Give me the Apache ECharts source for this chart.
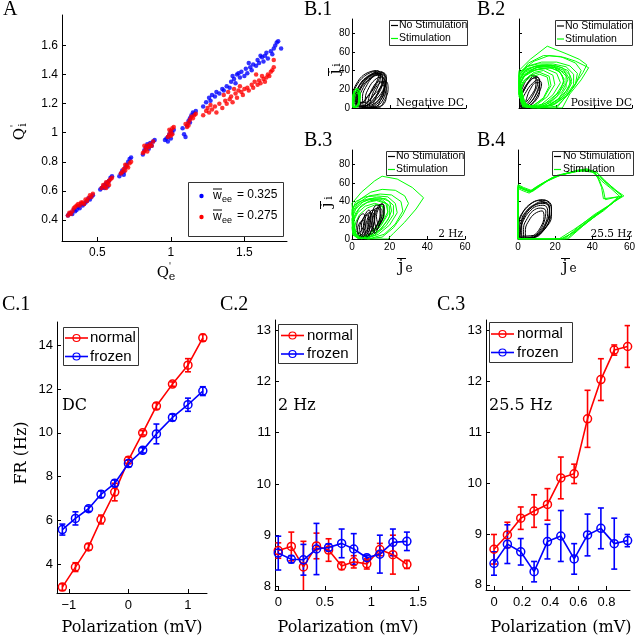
<!DOCTYPE html>
<html><head><meta charset="utf-8">
<script src="https://cdn.jsdelivr.net/npm/echarts@6/dist/echarts.min.js"></script>
<style>html,body{margin:0;padding:0;background:#fff}#c{width:638px;height:639px}</style>
</head><body><div id="c"></div>
<script>
// ---------------- Panel A data ----------------
const aXTicks = [0.5, 1, 1.5];
const aYTicks = [0.4, 0.6, 0.8, 1, 1.2, 1.4, 1.6];
const aLegendValues = ['0.325', '0.275'];
const aBlue = [
[0.30,0.43],[0.31,0.44],[0.32,0.45],[0.33,0.44],[0.34,0.47],[0.35,0.46],[0.37,0.49],[0.38,0.48],[0.40,0.50],[0.41,0.51],[0.42,0.52],[0.43,0.53],[0.44,0.55],[0.45,0.54],[0.46,0.56],[0.47,0.57],[0.39,0.51],[0.36,0.47],
[0.52,0.61],[0.53,0.62],[0.54,0.63],[0.55,0.62],[0.56,0.65],[0.57,0.66],[0.58,0.67],[0.59,0.69],[0.60,0.70],[0.55,0.64],[0.57,0.63],
[0.65,0.70],[0.66,0.72],[0.67,0.74],[0.68,0.73],[0.69,0.76],[0.70,0.78],[0.71,0.80],[0.72,0.82],[0.73,0.83],[0.68,0.71],
[0.81,0.85],[0.82,0.88],[0.83,0.90],[0.84,0.92],[0.85,0.89],[0.86,0.93],[0.87,0.91],[0.88,0.94],[0.89,0.95],[0.85,0.91],
[0.96,0.95],[0.97,0.96],[0.98,0.97],[0.99,0.99],[1.00,1.01],[1.01,1.00],[1.02,1.02],[0.98,0.94],[1.00,0.96],
[1.08,1.03],[1.09,0.99],[1.10,0.97],[1.11,1.05],[1.12,1.08],[1.13,1.10],[1.14,1.12],[1.15,1.14],[1.16,1.13],[1.17,1.15],[1.13,1.07],
[1.22,1.18],[1.24,1.21],[1.26,1.24],[1.27,1.22],[1.28,1.26],[1.30,1.25],[1.31,1.28],[1.33,1.27],[1.35,1.30],[1.36,1.29],[1.38,1.32],[1.40,1.31],[1.41,1.35],[1.43,1.37],[1.44,1.34],[1.45,1.40],[1.47,1.38],[1.48,1.42],[1.50,1.39],[1.51,1.44],[1.52,1.41],[1.54,1.45],[1.55,1.43],[1.56,1.47],[1.58,1.46],[1.59,1.50],[1.60,1.48],[1.62,1.52],[1.63,1.49],[1.64,1.53],[1.65,1.55],[1.66,1.51],[1.68,1.56],[1.69,1.54],[1.70,1.58],[1.71,1.60],[1.72,1.62],[1.73,1.63],[1.75,1.58],[1.42,1.39],[1.46,1.41],[1.53,1.48],[1.61,1.53]
];
const aRed = [
[0.30,0.43],[0.31,0.45],[0.32,0.44],[0.33,0.46],[0.34,0.48],[0.35,0.49],[0.36,0.50],[0.37,0.51],[0.38,0.50],[0.40,0.52],[0.41,0.51],[0.42,0.54],[0.43,0.53],[0.44,0.55],[0.45,0.57],[0.46,0.56],[0.47,0.58],[0.39,0.52],
[0.53,0.62],[0.54,0.64],[0.55,0.63],[0.56,0.66],[0.57,0.65],[0.58,0.67],[0.59,0.68],[0.60,0.69],[0.56,0.62],[0.58,0.64],
[0.66,0.72],[0.67,0.73],[0.68,0.75],[0.69,0.74],[0.70,0.77],[0.71,0.76],[0.72,0.79],[0.73,0.80],[0.69,0.78],
[0.81,0.86],[0.82,0.87],[0.83,0.89],[0.84,0.91],[0.85,0.90],[0.86,0.92],[0.87,0.91],[0.88,0.94],[0.82,0.91],[0.84,0.87],
[0.98,0.97],[0.99,0.99],[1.00,1.01],[1.01,1.03],[1.02,1.04],[0.99,1.02],[1.00,0.98],[1.01,0.99],
[1.10,1.06],[1.11,1.04],[1.12,1.07],[1.13,1.09],[1.14,1.11],[1.15,1.10],[1.16,1.12],[1.17,1.13],[1.12,1.05],
[1.22,1.12],[1.24,1.15],[1.25,1.17],[1.26,1.14],[1.27,1.19],[1.28,1.16],[1.30,1.18],[1.31,1.14],[1.33,1.20],[1.35,1.17],[1.37,1.22],[1.38,1.20],[1.40,1.23],[1.41,1.25],[1.42,1.21],[1.44,1.27],[1.45,1.24],[1.46,1.29],[1.48,1.28],[1.49,1.26],[1.50,1.30],[1.52,1.31],[1.53,1.29],[1.55,1.33],[1.56,1.31],[1.57,1.35],[1.59,1.33],[1.60,1.36],[1.61,1.34],[1.63,1.37],[1.64,1.35],[1.65,1.38],[1.66,1.40],[1.67,1.39],[1.68,1.42],[1.69,1.43],[1.70,1.50],[1.70,1.45],[1.36,1.26],[1.39,1.28],[1.43,1.30],[1.47,1.32],[1.58,1.40],[1.62,1.39]
];

// ---------------- Panel B data (trajectory loops, [je, ji]) ----------------
const bXTicks = [0, 20, 40, 60];
const bYTicks = [0, 20, 40, 60, 80];
const bLegendLabels = ['No Stimulation', 'Stimulation'];
const bNotes = ['Negative DC', 'Positive DC', '2 Hz', '25.5 Hz'];
const b1Black = [
[[2,2],[1.5,10],[3,20],[6,29],[10,35],[14,37],[16,33],[15,22],[11,9],[6,2],[2,2]],
[[3,1],[2.5,12],[5,24],[8,32],[12,38],[15,39],[17,35],[16,24],[12,10],[7,2],[3,1]],
[[4,0.5],[3,8],[4,18],[7,27],[11,34],[15,36],[18,32],[17,20],[14,8],[9,1],[4,0.5]],
[[5,1],[4,10],[6,22],[9,30],[13,36],[16,37],[18,30],[16,16],[12,5],[5,1]],
[[6,0.5],[5.5,12],[8,25],[11,33],[14,35],[17,30],[17,18],[14,6],[9,0.5],[6,0.5]],
[[2.5,3],[2,14],[4,25],[7,32],[11,37],[13,38],[15,34],[13,20],[9,8],[5,2],[2.5,3]],
[[7,0.5],[7,10],[9,22],[12,30],[15,33],[18,26],[17,12],[13,2],[7,0.5]],
[[8,0.5],[9,12],[11,22],[14,28],[16,28],[17,20],[15,8],[12,0.5],[8,0.5]],
[[1,5],[1,16],[3,26],[6,33],[9,37],[12,39],[14,36],[12,24],[8,12],[4,4],[1,5]],
[[1,8],[1,18],[3,28],[6,35],[10,39],[13,40],[15,37],[13,26],[9,14],[5,6],[1,8]],
[[9,0.5],[10,10],[12,20],[15,27],[18,28],[19,20],[17,8],[14,0.5],[9,0.5]],
[[3.5,2],[3,13],[5,23],[8,31],[12,36],[16,38],[18,34],[17,22],[13,10],[8,3],[3.5,2]],
[[10,0.5],[12,8],[14,18],[16,24],[18,22],[18,12],[16,3],[10,0.5]],
[[2,6],[2.5,17],[5,27],[9,34],[13,37],[16,35],[16,27],[12,15],[7,6],[2,6]]
];
const b1Green = [
[[0.5,0.5],[0.3,8],[0.8,15],[2,20],[3.5,19],[4.2,12],[3.5,5],[2,1],[0.5,0.5]],
[[1,0.5],[0.6,6],[1,13],[2,18],[3.2,17],[3.8,10],[3,3],[1,0.5]],
[[0.3,1],[0.2,10],[1,17],[2.5,21],[3.8,18],[4,9],[2.8,2],[0.3,1]],
[[1.5,0.5],[1.2,7],[1.8,14],[2.8,16],[3.5,12],[3.2,5],[1.5,0.5]],
[[0.2,2],[0.5,12],[1.5,19],[3,20],[4.4,15],[4,6],[2.5,0.5],[0.2,2]],
[[0.8,1],[0.7,9],[1.4,16],[2.4,19],[3.4,15],[3.6,8],[2.2,1.5],[0.8,1]]
];
const b2Black = [
[[0.5,1],[0.5,8],[2,18],[5,28],[8,34],[10,33],[11,26],[9,14],[5,4],[0.5,1]],
[[1,0.5],[1,10],[3,20],[6,29],[9,33],[11,30],[10,20],[7,8],[3,1],[1,0.5]],
[[2,0.5],[2,8],[4,18],[7,26],[10,30],[12,26],[10,14],[6,3],[2,0.5]],
[[0.3,2],[0.5,14],[2,22],[4,30],[7,35],[9,34],[9,25],[6,12],[2,3],[0.3,2]],
[[3,0.5],[4,10],[6,20],[9,27],[11,27],[11,18],[8,6],[3,0.5]],
[[1.5,1],[1.5,12],[3.5,22],[6,30],[8.5,32],[10,28],[8,16],[4.5,5],[1.5,1]]
];
const b2Green = [
[[0,40],[6,52],[15,66],[25,58],[32,52],[36,46],[34,38],[28,20],[22,5],[20,0],[10,0],[2,5],[0,20],[0,40]],
[[0,35],[5,48],[13,56],[22,55],[30,48],[33,40],[30,25],[25,12],[20,2],[12,0],[3,3],[0,15],[0,35]],
[[0,38],[8,50],[16,56],[24,54],[30,50],[37,43],[33,30],[27,15],[23,0],[14,0],[5,2],[0,14],[0,38]],
[[0,30],[4,42],[12,46],[20,45],[26,40],[28,30],[25,18],[20,8],[14,1],[6,0],[1,8],[0,30]],
[[0,28],[3,38],[10,44],[18,45],[24,40],[26,30],[23,18],[17,6],[10,0],[3,2],[0,12],[0,28]],
[[0.5,25],[3,36],[9,43],[16,44],[22,38],[24,28],[20,15],[14,5],[7,0],[2,3],[0.5,25]],
[[0,22],[2,33],[7,40],[14,42],[20,37],[22,27],[18,14],[12,4],[5,0.5],[1,6],[0,22]],
[[1,20],[3,30],[8,38],[13,40],[18,35],[19,25],[15,12],[9,3],[3,1],[1,20]],
[[0,18],[2,28],[6,35],[11,38],[16,34],[17,24],[13,10],[7,2],[2,2],[0,18]],
[[0,32],[3,40],[9,45],[17,46],[23,43],[27,35],[27,24],[23,12],[16,3],[8,0],[2,4],[0,32]],
[[0,26],[4,37],[11,42],[19,43],[25,37],[28,27],[25,15],[19,5],[11,0],[4,1],[0,26]],
[[0.5,24],[2,32],[6,40],[12,45],[19,43],[23,35],[24,25],[20,12],[14,3],[7,0],[2,6],[0.5,24]],
[[0,34],[4,44],[10,47],[18,47],[25,44],[29,36],[29,25],[25,13],[18,3],[10,0],[3,2],[0,34]],
[[0,29],[3,39],[8,44],[15,46],[21,42],[25,34],[25,22],[21,10],[15,2],[8,0],[2,4],[0,29]],
[[0,24],[3,34],[9,41],[16,43],[21,40],[24,31],[22,19],[17,8],[10,1],[3,1],[0,24]],
[[0,36],[5,45],[12,49],[20,49],[27,45],[31,37],[30,26],[26,14],[19,4],[11,0],[3,3],[0,36]],
[[0,16],[2,26],[6,33],[11,36],[15,33],[16,23],[13,11],[8,3],[2,1],[0,16]]
];
const b3Green = [
[[0,38],[5,50],[12,62],[16,67],[24,64],[32,55],[38,44],[34,32],[28,18],[22,6],[19,0],[8,0],[1,10],[0,38]],
[[0,32],[4,42],[10,50],[16,53],[23,52],[28,46],[30,38],[27,26],[22,12],[16,2],[8,0],[2,5],[0,32]],
[[0,28],[3,38],[9,46],[15,48],[21,47],[26,40],[27,30],[23,16],[17,5],[9,0],[2,4],[0,28]],
[[0,22],[2,32],[6,40],[12,44],[18,43],[22,36],[22,26],[18,14],[12,4],[5,0],[1,6],[0,22]],
[[0,18],[2,28],[5,36],[10,41],[16,42],[20,35],[20,24],[16,12],[10,3],[4,0.5],[0.5,6],[0,18]],
[[0.5,14],[1.5,24],[4,33],[8,39],[13,41],[18,38],[19,29],[16,17],[11,6],[5,1],[1,4],[0.5,14]],
[[0,26],[1,35],[4,40],[9,43],[15,44],[20,40],[21,30],[19,20],[14,8],[8,1],[2,2],[0,26]],
[[0,12],[1,20],[3,28],[7,35],[12,38],[16,36],[17,28],[14,16],[9,5],[4,0.5],[0.5,4],[0,12]],
[[1,8],[2,18],[4,26],[8,33],[13,37],[17,34],[17,24],[13,12],[8,3],[3,1],[1,8]],
[[0,30],[2,40],[7,45],[13,46],[19,45],[23,38],[24,28],[20,15],[14,5],[7,0],[1,5],[0,30]],
[[0,20],[1,30],[4,38],[9,42],[14,42],[19,37],[19,26],[15,13],[9,3],[3,0.5],[0,20]]
];
const b3Black = [
[[4,3],[3,10],[4,17],[6,20],[7,15],[6,7],[4,3]],
[[7,3],[6,12],[7,22],[9,28],[11,25],[10,14],[8,5],[7,3]],
[[10,5],[9,15],[10,25],[12,32],[14,33],[15,26],[13,14],[11,6],[10,5]],
[[13,10],[12,20],[13,30],[15,37],[17,36],[17,27],[15,16],[13,10]],
[[5,2],[4,12],[6,22],[8,26],[9,20],[8,10],[5,2]],
[[9,3],[8,13],[9,22],[11,28],[12,24],[11,13],[9,3]],
[[3,5],[2.5,14],[4,24],[6,27],[7,20],[5,9],[3,5]],
[[6,2],[5,14],[7,26],[9,31],[10,24],[9,12],[6,2]],
[[11,8],[10,20],[11,30],[13,36],[15,35],[15,24],[12,10],[11,8]],
[[14,14],[13,24],[14,32],[16,38],[17,32],[16,20],[14,14]],
[[8,2],[7,10],[8,20],[10,30],[12,31],[12,20],[10,8],[8,2]],
[[12,6],[11,18],[12,28],[14,34],[16,30],[15,18],[13,8],[12,6]]
];
const b4Black = [
[[0.5,1],[0.5,15],[2,26],[5,34],[9,40],[13,42],[16,40],[18,32],[17,20],[13,8],[7,1],[0.5,1]],
[[1,0.5],[1,12],[3,24],[6,32],[10,37],[14,38],[17,33],[16,20],[12,7],[6,0.5],[1,0.5]],
[[2,0.5],[1.5,10],[3,20],[6,29],[10,35],[14,36],[16,30],[15,18],[11,6],[6,0.5],[2,0.5]],
[[0.5,3],[0.5,18],[3,30],[7,38],[11,41],[15,41],[18,35],[18,24],[15,12],[10,3],[4,0.5],[0.5,3]],
[[3,0.5],[3,12],[5,22],[8,30],[12,33],[15,30],[14,18],[11,7],[7,1],[3,0.5]],
[[4,1],[4,10],[6,20],[9,27],[13,30],[14,24],[12,12],[8,3],[4,1]],
[[1,2],[2,16],[4,26],[7,33],[11,38],[15,39],[17,34],[17,22],[14,10],[9,2],[1,2]],
[[2,3],[2,20],[5,31],[9,37],[13,40],[16,37],[17,28],[15,16],[11,5],[2,3]]
];
const b4Green = [
[[0,0],[10,0],[22,0],[30,10],[38,21],[48,34],[56,46],[51,55],[46,63],[42,72],[36,74],[26,70],[19,66],[12,58],[7,50],[3,53],[0,56],[0,30],[0,0]],
[[0,0],[12,0],[24,0],[31,9],[40,23],[50,37],[55,45],[50,54],[45,62],[41,71],[34,73],[27,70],[20,67],[13,59],[7,51],[3,54],[0,57],[0,0]],
[[0,0],[14,0],[26,0],[33,11],[42,25],[51,39],[56,46],[47,42],[46,52],[44,62],[41,72],[33,74],[24,69],[16,62],[8,51],[4,52],[0,55],[0,0]],
[[0,0],[13,0],[25,0],[32,12],[41,26],[49,36],[54,45],[46,43],[45,55],[43,65],[40,73],[31,72],[22,68],[14,60],[6,49],[2,52],[0,54],[0,0]],
[[0,0],[15,0],[27,0],[35,14],[44,28],[52,40],[57,46],[52,53],[47,62],[43,70],[37,75],[28,71],[18,65],[10,56],[6,50],[2,55],[0,55],[0,0]],
[[0,0],[11,0],[23,0],[30,7],[37,18],[46,30],[53,42],[56,46],[49,57],[44,66],[38,74],[30,72],[21,68],[13,59],[7,52],[3,55],[0,58],[0,0]]
];

// ---------------- Panel C data ----------------
const cLegendLabels = ['normal', 'frozen'];
const cNotes = ['DC', '2 Hz', '25.5 Hz'];
const c1XTicks = [-1, 0, 1];
const c1YTicks = [4, 6, 8, 10, 12, 14];
const c1X = [-1.11, -0.89, -0.67, -0.46, -0.23, 0, 0.24, 0.47, 0.74, 1.0, 1.25];
const c1Normal = [2.97, 3.88, 4.80, 6.05, 7.3, 8.75, 10.0, 11.22, 12.22, 13.08, 14.33];
const c1NormalErr = [0.15, 0.2, 0.15, 0.2, 0.4, 0.15, 0.1, 0.15, 0.1, 0.3, 0.15];
const c1Frozen = [5.59, 6.1, 6.54, 7.2, 7.7, 8.6, 9.2, 9.95, 10.7, 11.28, 11.9];
const c1FrozenErr = [0.25, 0.3, 0.12, 0.15, 0.15, 0.15, 0.12, 0.45, 0.15, 0.3, 0.2];

const c2XTicks = [0, 0.5, 1, 1.5];
const c2YTicks = [8, 9, 10, 11, 12, 13];
const c2X = [0, 0.14, 0.27, 0.41, 0.54, 0.68, 0.81, 0.95, 1.09, 1.23, 1.38];
const c2Normal = [8.7, 8.78, 8.38, 8.79, 8.71, 8.4, 8.48, 8.44, 8.72, 8.62, 8.43];
const c2NormalErr = [0.15, 0.28, 0.5, 0.25, 0.22, 0.07, 0.12, 0.1, 0.12, 0.38, 0.08];
const c2Frozen = [8.65, 8.53, 8.52, 8.73, 8.76, 8.84, 8.73, 8.56, 8.63, 8.86, 8.88];
const c2FrozenErr = [0.33, 0.07, 0.3, 0.5, 0.07, 0.28, 0.3, 0.05, 0.37, 0.26, 0.18];

const c3XTicks = [0, 0.2, 0.4, 0.6, 0.8];
const c3YTicks = [8, 9, 10, 11, 12, 13];
const c3X = [0, 0.095, 0.19, 0.285, 0.38, 0.475, 0.57, 0.665, 0.76, 0.855, 0.95];
const c3Normal = [8.7, 8.98, 9.31, 9.45, 9.58, 10.1, 10.18, 11.26, 12.03, 12.61, 12.68];
const c3NormalErr = [0.29, 0.25, 0.22, 0.32, 0.31, 0.41, 0.19, 0.56, 0.41, 0.1, 0.41];
const c3Frozen = [8.42, 8.8, 8.65, 8.26, 8.85, 8.96, 8.51, 8.98, 9.11, 8.81, 8.87];
const c3FrozenErr = [0.23, 0.38, 0.26, 0.2, 0.34, 0.5, 0.3, 0.41, 0.4, 0.5, 0.12];

// ---------------- Build chart ----------------
const SANS = '"Liberation Sans", Arial, sans-serif';
const TIMES = '"Liberation Serif", "Times New Roman", serif';
const DSERIF = '"DejaVu Serif", serif';
const RED = '#ff0000', BLUE = '#0000ff', GREEN = '#00ff00', BLACK = '#000000';

const grids = [
  {left: 62, top: 15, width: 225, height: 226},   // A
  {left: 352, top: 19, width: 114, height: 89},   // B1
  {left: 519, top: 19, width: 113, height: 89},   // B2
  {left: 352, top: 150, width: 113, height: 89},  // B3
  {left: 518, top: 150, width: 114, height: 89},  // B4
  {left: 57, top: 322, width: 150, height: 271},  // C1
  {left: 275, top: 320, width: 144, height: 270}, // C2
  {left: 486, top: 320, width: 144, height: 270}  // C3
];

function axis(gi, min, max, ticks, showLabels, fontSize, margin, fmt) {
  return {
    type: 'value', gridIndex: gi, min: min, max: max, scale: true,
    axisLine: {show: true, onZero: false, lineStyle: {color: BLACK, width: 1}},
    axisTick: {show: true, inside: true, length: 4, customValues: ticks, lineStyle: {color: BLACK, width: 1}},
    axisLabel: {show: showLabels, customValues: ticks, fontSize: fontSize, fontFamily: SANS, color: BLACK, margin: margin,
      formatter: fmt || function (v) { return String(v); }},
    splitLine: {show: false}
  };
}
const minusFmt = v => (v < 0 ? '\u2212' + Math.abs(v) : String(v));

const xAxes = [
  axis(0, 0.26, 1.79, aXTicks, true, 12, 6),
  axis(1, 0, 60, bXTicks, false, 10, 3),
  axis(2, 0, 60, bXTicks, false, 10, 3),
  axis(3, 0, 60, bXTicks, true, 10, 3),
  axis(4, 0, 60, bXTicks, true, 10, 3),
  axis(5, -1.2, 1.32, c1XTicks, true, 13, 6, minusFmt),
  axis(6, -0.035, 1.51, c2XTicks, true, 13, 6),
  axis(7, -0.057, 0.967, c3XTicks, true, 13, 6)
];
const yAxes = [
  axis(0, 0.255, 1.81, aYTicks, true, 12, 4),
  axis(1, 0, 95, bYTicks, true, 10, 2),
  axis(2, 0, 95, bYTicks, false, 10, 2),
  axis(3, 0, 95, bYTicks, true, 10, 2),
  axis(4, 0, 95, bYTicks, false, 10, 2),
  axis(5, 2.7, 15.05, c1YTicks, true, 13, 4),
  axis(6, 7.93, 13.2, c2YTicks, true, 13, 4),
  axis(7, 7.9, 13.2, c3YTicks, true, 13, 4)
];
[1,2,3,4].forEach(i => { xAxes[i].axisTick.length = 3; yAxes[i].axisTick.length = 3; });

const series = [];
// Panel A
series.push({type: 'scatter', xAxisIndex: 0, yAxisIndex: 0, data: aBlue, symbolSize: 4.5, itemStyle: {color: BLUE}, z: 2});
series.push({type: 'scatter', xAxisIndex: 0, yAxisIndex: 0, data: aRed, symbolSize: 4.5, itemStyle: {color: RED}, z: 3});

function loops(gi, arr, color, z, smooth) {
  arr.forEach(loop => series.push({type: 'line', xAxisIndex: gi, yAxisIndex: gi, data: loop, showSymbol: false, symbol: 'none',
    smooth: smooth, lineStyle: {color: color, width: 1}, z: z, clip: true}));
}
loops(1, b1Black, BLACK, 2, 0.4); loops(1, b1Green, GREEN, 3, 0.4);
loops(2, b2Black, BLACK, 2, 0.4); loops(2, b2Green, GREEN, 3, false);
loops(3, b3Green, GREEN, 2, false); loops(3, b3Black, BLACK, 3, 0.4);
loops(4, b4Black, BLACK, 2, 0.4); loops(4, b4Green, GREEN, 3, false);

function errSeries(gi, xs, ys, es, color) {
  return {type: 'custom', xAxisIndex: gi, yAxisIndex: gi, clip: true, z: 3, silent: true,
    data: xs.map((x, i) => [x, ys[i] - es[i], ys[i] + es[i]]),
    encode: {x: 0, y: [1, 2]},
    renderItem: function (params, api) {
      const x = api.value(0);
      const p1 = api.coord([x, api.value(1)]), p2 = api.coord([x, api.value(2)]);
      const w = 3, st = {stroke: color, lineWidth: 1.6};
      return {type: 'group', children: [
        {type: 'line', shape: {x1: p1[0], y1: p1[1], x2: p2[0], y2: p2[1]}, style: st},
        {type: 'line', shape: {x1: p1[0] - w, y1: p1[1], x2: p1[0] + w, y2: p1[1]}, style: st},
        {type: 'line', shape: {x1: p2[0] - w, y1: p2[1], x2: p2[0] + w, y2: p2[1]}, style: st}
      ]};
    }};
}
function lineSeries(gi, xs, ys, color, z) {
  return {type: 'line', xAxisIndex: gi, yAxisIndex: gi, data: xs.map((x, i) => [x, ys[i]]),
    symbol: 'circle', symbolSize: 8, showSymbol: true, clip: true, z: z,
    lineStyle: {color: color, width: 1.6},
    itemStyle: {color: 'rgba(0,0,0,0)', borderColor: color, borderWidth: 1.5}};
}
[[5, c1X, c1Normal, c1NormalErr, c1Frozen, c1FrozenErr],
 [6, c2X, c2Normal, c2NormalErr, c2Frozen, c2FrozenErr],
 [7, c3X, c3Normal, c3NormalErr, c3Frozen, c3FrozenErr]].forEach(p => {
  series.push(errSeries(p[0], p[1], p[2], p[3], RED));
  series.push(lineSeries(p[0], p[1], p[2], RED, 4));
  series.push(errSeries(p[0], p[1], p[4], p[5], BLUE));
  series.push(lineSeries(p[0], p[1], p[4], BLUE, 5));
});

// ---------------- Graphic (labels, legends, titles) ----------------
const G = [];
function T(x, y, text, size, font, align, extra) {
  return {type: 'text', x: x, y: y, z: 100, style: Object.assign({text: text, fontSize: size, fontFamily: font, fill: BLACK,
    align: align || 'left', verticalAlign: 'middle'}, extra || {})};
}
function L(x1, y1, x2, y2, color, w) {
  return {type: 'line', z: 100, shape: {x1: x1, y1: y1, x2: x2, y2: y2}, style: {stroke: color, lineWidth: w || 1}};
}
function R(x1, y1, x2, y2, fill) {
  return {type: 'rect', z: 99, shape: {x: x1 + 0.5, y: y1 + 0.5, width: x2 - x1, height: y2 - y1},
    style: {fill: fill === undefined ? '#fff' : fill, stroke: '#333', lineWidth: 1}};
}
// panel letters
G.push(T(3, 10, 'A', 20, TIMES));
G.push(T(304, 10, 'B.1', 20, TIMES));
G.push(T(477, 10, 'B.2', 20, TIMES));
G.push(T(304, 141, 'B.3', 20, TIMES));
G.push(T(477, 141, 'B.4', 20, TIMES));
G.push(T(2, 305, 'C.1', 20, TIMES));
G.push(T(220, 305, 'C.2', 20, TIMES));
G.push(T(437, 305, 'C.3', 20, TIMES));

// Panel A axis titles
G.push(T(163, 273, 'Q', 15, DSERIF, 'center'));
G.push(T(170, 267, "'", 9, DSERIF, 'center'));
G.push(T(172, 277, 'e', 11, DSERIF, 'center'));
G.push({type: 'group', x: 20, y: 132, rotation: Math.PI / 2, z: 100, children: [
  T(-2, 0, 'Q', 15, DSERIF, 'center'),
  T(6, -5, "'", 9, DSERIF, 'center'),
  T(7, 3, 'i', 11, DSERIF, 'center')
]});
// Panel A legend
G.push(R(188, 182, 283, 236));
[[196, BLUE], [217, RED]].forEach((r, i) => {
  G.push({type: 'circle', z: 101, shape: {cx: 201.5, cy: r[0], r: 2.2}, style: {fill: r[1]}});
  G.push(T(213, r[0], 'w', 12, SANS));
  G.push(L(213, r[0] - 7, 222, r[0] - 7, BLACK, 1));
  G.push(T(222, r[0] + 4, 'ee', 9, SANS));
  G.push(T(237, r[0] - 1, '= ' + aLegendValues[i], 12, SANS));
});

// Panel B legends
function bLegend(x1, y1, x2, y2, r1, r2, lx, tx, fill) {
  G.push(R(x1, y1, x2, y2, fill));
  G.push(L(lx, r1, lx + 7, r1, BLACK, 1.2));
  G.push(T(tx, r1, bLegendLabels[0], 10.5, SANS));
  G.push(L(lx, r2, lx + 7, r2, GREEN, 1.2));
  G.push(T(tx, r2, bLegendLabels[1], 10.5, SANS));
}
bLegend(389, 20, 467, 45, 25.5, 38.5, 391, 399);
bLegend(555, 20, 632, 45, 26, 39, 557, 565);
bLegend(386, 151, 464, 175, 156.5, 169.5, 388, 396);
bLegend(552, 151, 633, 175, 156.5, 169.5, 554, 563, 'none');
G.push(T(464, 103, bNotes[0], 10.5, DSERIF, 'right'));
G.push(T(632, 103, bNotes[1], 10.5, DSERIF, 'right'));
G.push(T(463, 234, bNotes[2], 10.5, DSERIF, 'right'));
G.push(T(632, 234, bNotes[3], 10.5, DSERIF, 'right'));
// B axis titles
function jLabelRot(cx, cy) {
  G.push({type: 'group', x: cx, y: cy, rotation: Math.PI / 2, z: 100, children: [
    T(-3, 0, 'j', 15, DSERIF, 'center'),
    L(-7, -6.5, 1, -6.5, BLACK, 1),
    T(4, 2, 'i', 11, DSERIF, 'center')
  ]});
}
jLabelRot(335, 69);
jLabelRot(327, 202);
function jLabelX(cx) {
  G.push(T(cx, 267, 'j', 16, DSERIF, 'center'));
  G.push(L(cx - 4, 258.5, cx + 5, 258.5, BLACK, 1));
  G.push(T(cx + 8, 269, 'e', 12, DSERIF, 'center'));
}
jLabelX(401);
jLabelX(565);

// Panel C legends
function cLegend(x1, y1, x2, y2, r1, r2, lx1, lx2, tx) {
  G.push(R(x1, y1, x2, y2));
  [[r1, RED, 0], [r2, BLUE, 1]].forEach(r => {
    G.push(L(lx1, r[0], lx2, r[0], r[1], 1.6));
    G.push({type: 'circle', z: 101, shape: {cx: (lx1 + lx2) / 2, cy: r[0], r: 3.5}, style: {fill: 'none', stroke: r[1], lineWidth: 1.2}});
    G.push(T(tx, r[0], cLegendLabels[r[2]], 15, SANS));
  });
}
cLegend(63, 327, 138, 365, 338, 356.5, 65, 88, 90);
cLegend(278, 324, 357, 363, 335.5, 354, 281, 304, 307);
cLegend(489, 322, 572, 362, 334, 352.5, 491, 514, 517);
G.push(T(62, 406, cNotes[0], 16, DSERIF));
G.push(T(278, 406, cNotes[1], 16, DSERIF));
G.push(T(489, 406, cNotes[2], 16, DSERIF));
G.push(T(132, 628, 'Polarization (mV)', 16, DSERIF, 'center'));
G.push(T(348, 628, 'Polarization (mV)', 16, DSERIF, 'center'));
G.push(T(561, 628, 'Polarization (mV)', 16, DSERIF, 'center'));
G.push({type: 'text', x: 22, y: 453, rotation: Math.PI / 2, z: 100,
  style: {text: 'FR (Hz)', fontSize: 16, fontFamily: DSERIF, fill: BLACK, align: 'center', verticalAlign: 'middle'}});

const chart = echarts.init(document.getElementById('c'), null, {renderer: 'canvas'});
chart.setOption({
  animation: false,
  backgroundColor: '#fff',
  grid: grids,
  xAxis: xAxes,
  yAxis: yAxes,
  series: series,
  graphic: G
});
</script></body></html>
